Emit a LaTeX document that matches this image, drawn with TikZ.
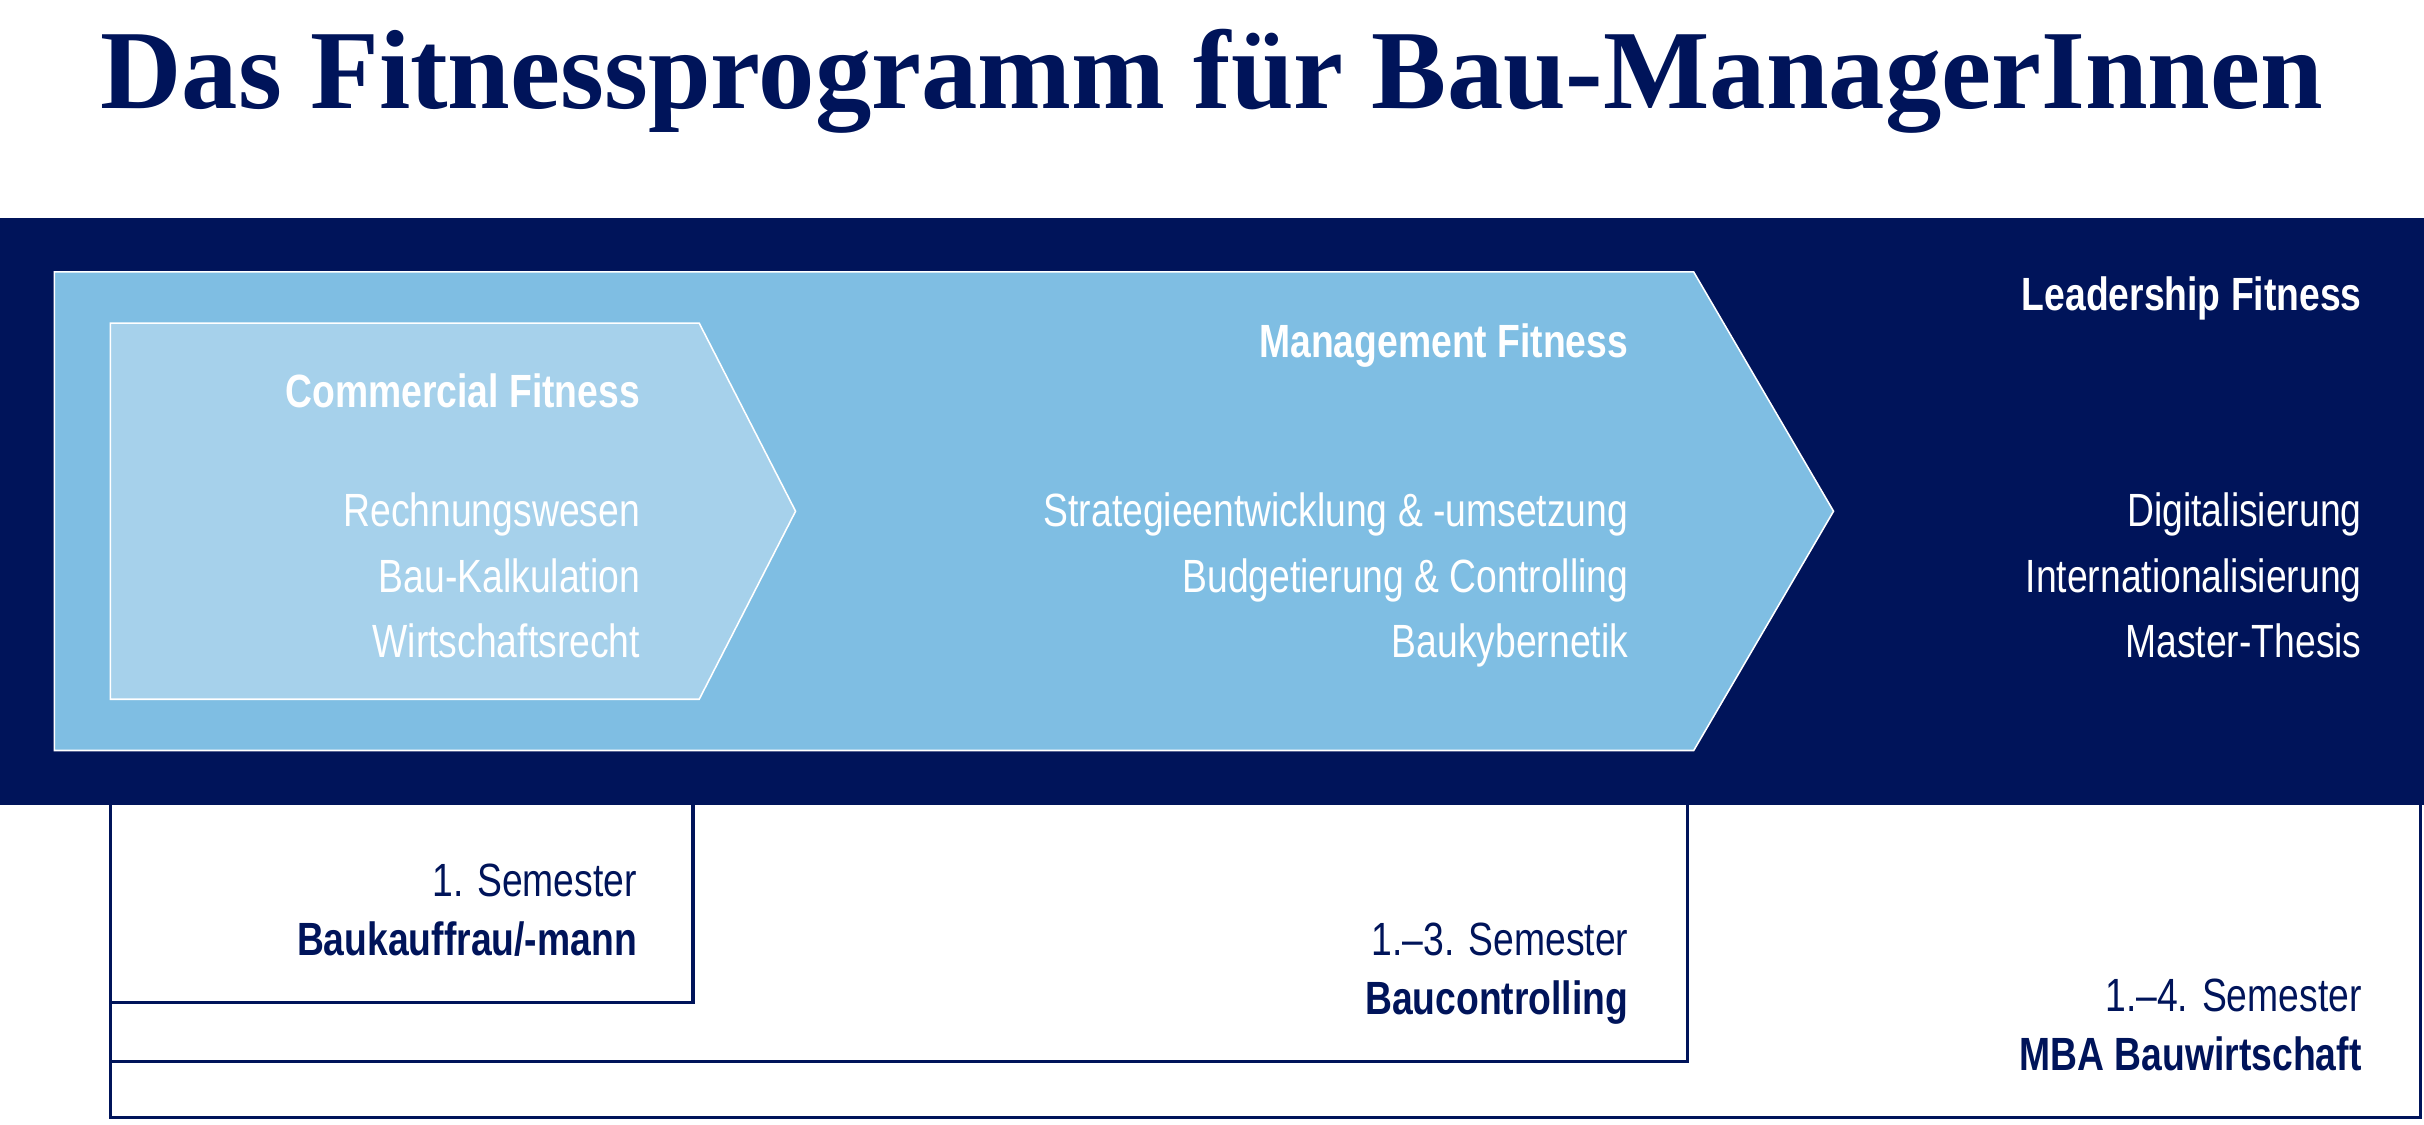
\documentclass[tikz,border=0pt]{standalone}
\usepackage{fontspec}
\setmainfont{Liberation Serif}
\newfontfamily\cond{Liberation Sans}
\definecolor{navy}{HTML}{00145A}
\definecolor{midblue}{HTML}{7FBEE3}
\definecolor{lightblue}{HTML}{A6D1EB}
\tikzset{
  txt/.style={anchor=base east, inner sep=0pt, font=\cond\fontsize{30}{30}\selectfont, xscale=0.8},
  hd/.style={txt, font=\cond\bfseries\fontsize{30}{30}\selectfont},
  wt/.style={text=white},
  nv/.style={text=navy},
  bx/.style={draw=navy, line width=2pt}
}
\begin{document}
\begin{tikzpicture}[x=1pt,y=-1pt]
\useasboundingbox (0,0) rectangle (1560,724);
\node[inner sep=0pt, text=navy] (title) at (780,52) {\resizebox{1430pt}{!}{\bfseries Das Fitnessprogramm für Bau-ManagerInnen}};
\draw[bx] (71,500) rectangle (1558,719);
\draw[bx] (71,500) rectangle (1086,683);
\draw[bx] (71,500) rectangle (446,645);
\fill[navy] (0,140) rectangle (1560,518);
\draw[white, fill=midblue, line width=1pt] (35,175) -- (1090,175) -- (1180,329) -- (1090,483) -- (35,483) -- cycle;
\draw[white, fill=lightblue, line width=1pt] (71,208) -- (450,208) -- (512,329) -- (450,450) -- (71,450) -- cycle;
\node[hd,wt] (c0) at (412,262) {Commercial Fitness};
\node[txt,wt] (c1) at (412,339) {Rechnungswesen};
\node[txt,wt] (c2) at (412,381) {Bau-Kalkulation};
\node[txt,wt] (c3) at (412,423) {Wirtschaftsrecht};
\node[hd,wt] (m0) at (1048,230) {Management Fitness};
\node[txt,wt] (m1) at (1048,339) {Strategieentwicklung \& -umsetzung};
\node[txt,wt] (m2) at (1048,381) {Budgetierung \& Controlling};
\node[txt,wt] (m3) at (1048,423) {Baukybernetik};
\node[hd,wt] (l0) at (1520,200) {Leadership Fitness};
\node[txt,wt] (l1) at (1520,339) {Digitalisierung};
\node[txt,wt] (l2) at (1520,381) {Internationalisierung};
\node[txt,wt] (l3) at (1520,423) {Master-Thesis};
\node[txt,nv] (s1) at (410,577) {1. Semester};
\node[hd,nv] (b1) at (410,615) {Baukauffrau/-mann};
\node[txt,nv] (s2) at (1048,615) {1.–3. Semester};
\node[hd,nv] (b2) at (1048,653) {Baucontrolling};
\node[txt,nv] (s3) at (1520,651) {1.–4. Semester};
\node[hd,nv] (b3) at (1520,689) {MBA Bauwirtschaft};
\end{tikzpicture}
\end{document}
